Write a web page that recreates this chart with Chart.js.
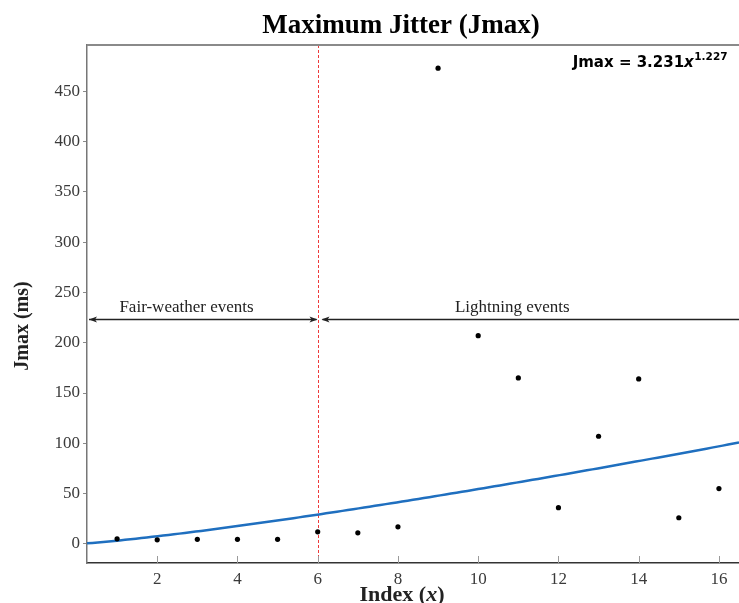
<!DOCTYPE html>
<html>
<head>
<meta charset="utf-8">
<title>Maximum Jitter (Jmax)</title>
<script src="https://cdn.jsdelivr.net/npm/chart.js@4.4.1/dist/chart.umd.min.js"></script>
<style>
  html, body { margin: 0; padding: 0; background: #ffffff; }
  #wrap { position: relative; width: 739px; height: 603px; }
</style>
</head>
<body>
<div id="wrap"><canvas id="jitterChart"></canvas></div>
<script>
  "use strict";

  // event index and measured maximum jitter (ms)
  const eventIndex = [1, 2, 3, 4, 5, 6, 7, 8, 9, 10, 11, 12, 13, 14, 15, 16];
  const jmaxMs = [5, 4, 4.5, 4.5, 4.5, 12, 11, 17, 473, 207, 165, 36, 107, 164, 26, 55];

  const xTickValues = [2, 4, 6, 8, 10, 12, 14, 16];
  const yTickValues = [0, 50, 100, 150, 200, 250, 300, 350, 400, 450];

  // power-law fit Jmax = a * x^b
  const fitA = 3.231;
  const fitB = 1.227;

  const boundaryIndex = 6;
  const arrowLevel = 224;
  const regionNames = ["Fair-weather events", "Lightning events"];

  const X_MIN = 0.25;
  const X_MAX = 16.5;
  const Y_MIN = -19;
  const Y_MAX = 496;

  const SERIF = "'Liberation Serif', 'Times New Roman', serif";
  const SANS = "'DejaVu Sans', Verdana, sans-serif";

  function buildFitCurve() {
    const pts = [];
    const n = 120;
    for (let i = 0; i <= n; i++) {
      const x = X_MIN + (X_MAX - X_MIN) * i / n;
      pts.push({ x: x, y: fitA * Math.pow(x, fitB) });
    }
    return pts;
  }

  function arrowHead(ctx, tipX, y, dir) {
    ctx.beginPath();
    ctx.moveTo(tipX, y);
    ctx.lineTo(tipX - dir * 8, y - 3);
    ctx.lineTo(tipX - dir * 6, y);
    ctx.lineTo(tipX - dir * 8, y + 3);
    ctx.closePath();
    ctx.fill();
  }

  const decorPlugin = {
    id: "jitterDecor",
    beforeDatasetsDraw(chart) {
      const { ctx, chartArea, scales } = chart;
      const bx = Math.round(scales.x.getPixelForValue(boundaryIndex)) + 0.5;
      ctx.save();
      ctx.strokeStyle = "#ee3b3b";
      ctx.lineWidth = 1;
      ctx.setLineDash([3, 2]);
      ctx.beginPath();
      ctx.moveTo(bx, chartArea.top);
      ctx.lineTo(bx, chartArea.bottom);
      ctx.stroke();
      ctx.restore();
    },
    afterDraw(chart) {
      const { ctx, chartArea, scales } = chart;
      const xs = scales.x;
      const ys = scales.y;
      ctx.save();

      // top frame line
      ctx.strokeStyle = "#8a8a8a";
      ctx.lineWidth = 2;
      ctx.beginPath();
      ctx.moveTo(chartArea.left, chartArea.top);
      ctx.lineTo(chartArea.right, chartArea.top);
      ctx.stroke();

      // inward x ticks
      ctx.strokeStyle = "#9a9a9a";
      ctx.lineWidth = 1;
      xTickValues.forEach((v) => {
        const px = Math.round(xs.getPixelForValue(v)) + 0.5;
        ctx.beginPath();
        ctx.moveTo(px, chartArea.bottom);
        ctx.lineTo(px, chartArea.bottom - 7);
        ctx.stroke();
      });

      // region arrows
      const ay = Math.round(ys.getPixelForValue(arrowLevel)) + 0.5;
      const bx = Math.round(xs.getPixelForValue(boundaryIndex)) + 0.5;
      ctx.strokeStyle = "#222222";
      ctx.fillStyle = "#222222";
      ctx.lineWidth = 1.3;
      ctx.beginPath();
      ctx.moveTo(chartArea.left + 2, ay);
      ctx.lineTo(bx - 2, ay);
      ctx.moveTo(bx + 4, ay);
      ctx.lineTo(chartArea.right + 10, ay);
      ctx.stroke();
      arrowHead(ctx, chartArea.left + 2, ay, -1);
      arrowHead(ctx, bx - 1, ay, 1);
      arrowHead(ctx, bx + 3, ay, -1);

      ctx.font = "17px " + SERIF;
      ctx.textAlign = "center";
      ctx.textBaseline = "alphabetic";
      ctx.fillStyle = "#222222";
      ctx.fillText(regionNames[0], xs.getPixelForValue(2.73), ay - 8);
      ctx.fillText(regionNames[1], xs.getPixelForValue(10.85), ay - 8);

      // fit equation
      const sup = fitB.toFixed(3);
      ctx.font = "bold 10.5px " + SANS;
      const supW = ctx.measureText(sup).width;
      ctx.font = "bold italic 15px " + SANS;
      const xW = ctx.measureText("x").width;
      ctx.font = "bold 15px " + SANS;
      const main = "Jmax = " + fitA.toFixed(3);
      const mainW = ctx.measureText(main).width;
      const right = 727;
      const base = 67;
      let cx = right - supW - xW - mainW;
      ctx.textAlign = "left";
      ctx.fillStyle = "#000000";
      ctx.fillText(main, cx, base);
      cx += mainW;
      ctx.font = "bold italic 15px " + SANS;
      ctx.fillText("x", cx, base);
      cx += xW;
      ctx.font = "bold 10.5px " + SANS;
      ctx.fillText(sup, cx + 0.5, base - 7);

      // title
      ctx.textAlign = "center";
      ctx.font = "bold 27px " + SERIF;
      ctx.fillStyle = "#000000";
      ctx.fillText("Maximum Jitter (Jmax)", 401, 33);

      // x axis title with italic x
      ctx.font = "bold 22px " + SERIF;
      const p1 = "Index (";
      const p3 = ")";
      const w1 = ctx.measureText(p1).width;
      const w3 = ctx.measureText(p3).width;
      ctx.font = "bold italic 22px " + SERIF;
      const w2 = ctx.measureText("x").width;
      let tx = 402 - (w1 + w2 + w3) / 2;
      ctx.textAlign = "left";
      ctx.fillStyle = "#222222";
      ctx.font = "bold 22px " + SERIF;
      ctx.fillText(p1, tx, 601);
      tx += w1;
      ctx.font = "bold italic 22px " + SERIF;
      ctx.fillText("x", tx, 601);
      tx += w2;
      ctx.font = "bold 22px " + SERIF;
      ctx.fillText(p3, tx, 601);

      // y axis title
      ctx.translate(23, 326);
      ctx.rotate(-Math.PI / 2);
      ctx.textAlign = "center";
      ctx.textBaseline = "middle";
      ctx.font = "bold 20px " + SERIF;
      ctx.fillText("Jmax (ms)", 0, 0);

      ctx.restore();
    }
  };

  const fitCurve = buildFitCurve();
  const eventPoints = eventIndex.map((x, i) => ({ x: x, y: jmaxMs[i] }));

  new Chart(document.getElementById("jitterChart"), {
    type: "scatter",
    data: {
      datasets: [
        {
          label: "Jmax",
          data: eventPoints,
          backgroundColor: "#000000",
          borderWidth: 0,
          pointRadius: 2.6,
          order: 0
        },
        {
          label: "Fit",
          data: fitCurve,
          showLine: true,
          borderColor: "#1f6fbf",
          borderWidth: 2.5,
          pointRadius: 0,
          order: 1
        }
      ]
    },
    options: {
      responsive: true,
      maintainAspectRatio: false,
      animation: false,
      layout: { autoPadding: false, padding: { top: 45, right: 0, bottom: 0, left: 0 } },
      plugins: {
        legend: { display: false },
        tooltip: { enabled: false },
        title: { display: false }
      },
      scales: {
        x: {
          type: "linear",
          min: X_MIN,
          max: X_MAX,
          afterBuildTicks: (s) => { s.ticks = xTickValues.map((v) => ({ value: v })); },
          afterFit: (s) => {
            s.height = 40;
            s.paddingLeft = 0;
            s.paddingRight = 0;
          },
          grid: { drawOnChartArea: false, drawTicks: false },
          border: { color: "#333333", width: 1.5 },
          ticks: {
            padding: 6,
            color: "#3a3a3a",
            font: { family: SERIF, size: 17 },
            maxRotation: 0
          }
        },
        y: {
          type: "linear",
          min: Y_MIN,
          max: Y_MAX,
          afterBuildTicks: (s) => { s.ticks = yTickValues.map((v) => ({ value: v })); },
          afterFit: (s) => {
            s.width = 87;
            s.paddingTop = 0;
            s.paddingBottom = 0;
          },
          grid: { drawOnChartArea: false, drawTicks: true, tickLength: 4, color: "#8a8a8a" },
          border: { color: "#777777", width: 1.5 },
          ticks: {
            padding: 3,
            color: "#3a3a3a",
            font: { family: SERIF, size: 17 }
          }
        }
      }
    },
    plugins: [decorPlugin]
  });
</script>
</body>
</html>
